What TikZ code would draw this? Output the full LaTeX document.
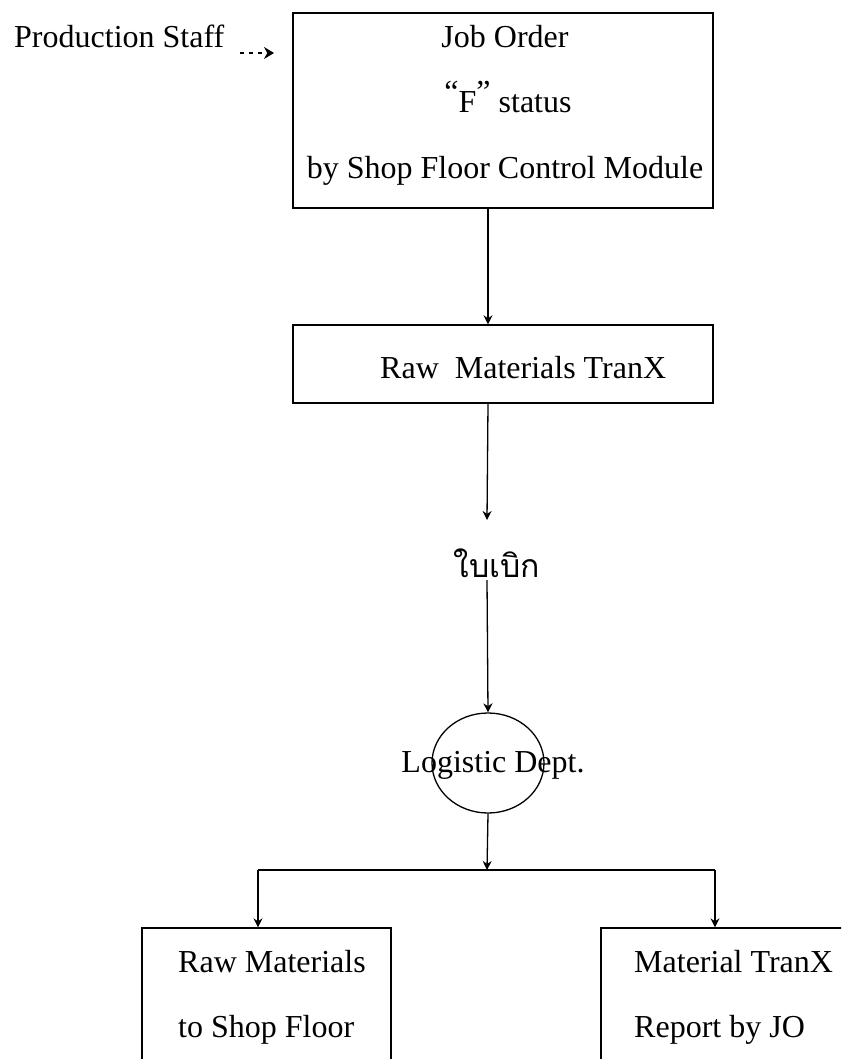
\documentclass[tikz,border=0pt]{standalone}
\usepackage{fontspec}
\setmainfont{Liberation Serif}
\newfontfamily\thaifont[Script=Thai]{Loma}
\usetikzlibrary{arrows.meta,shapes.geometric}
\tikzset{
  box/.style={draw, line width=1.3pt, rectangle, inner sep=0pt},
  lbl/.style={inner sep=0pt, font=\fontsize{32}{38}\selectfont},
  conn/.style={line width=1.3pt},
  arr/.style={conn, -{Stealth[length=9pt,width=9pt]}},
  dasharr/.style={line width=1.3pt, dash pattern=on 4pt off 5pt, -{Stealth[length=10pt,width=12pt]}}
}
\begin{document}
\begin{tikzpicture}[x=1pt,y=-1pt]
\useasboundingbox (0,0) rectangle (841,1059);
\clip (0,0) rectangle (841,1059);
% boxes
\node[box, minimum width=420pt, minimum height=195pt] (top) at (503,110.5) {};
\node[box, minimum width=420pt, minimum height=78pt] (raw) at (503,364) {};
\node[draw, ellipse, line width=1.3pt, minimum width=112pt, minimum height=100pt, inner sep=0pt] (circ) at (488,763) {};
\node[box, minimum width=249pt, minimum height=200pt] (lbox) at (266.5,1028) {};
\node[box, minimum width=300pt, minimum height=200pt] (rbox) at (751,1028) {};
% texts
\node[lbl, anchor=base west] (ps) at (14,48) {Production Staff};
\node[lbl, anchor=base] (jo) at (505,48) {Job Order};
\node[lbl, anchor=base] (fs) at (508,113) {\raisebox{10pt}{“}F\raisebox{10pt}{”}\ status};
\node[lbl, anchor=base] (sfc) at (505,179) {by Shop Floor Control Module};
\node[lbl, anchor=base west] (rmt) at (380,378) {Raw\ \ Materials TranX};
\node[inner sep=0pt, anchor=base, font=\fontsize{32}{38}\thaifont] (thai) at (497,577) {ใบเบิก};
\node[lbl, anchor=base] (log) at (493,772) {Logistic Dept.};
\node[lbl, anchor=base west] (l1) at (178,972) {Raw Materials};
\node[lbl, anchor=base west] (l2) at (178,1037) {to Shop Floor};
\node[lbl, anchor=base west] (r1) at (634,972) {Material TranX};
\node[lbl, anchor=base west] (r2) at (634,1037) {Report by JO};
% connectors
\coordinate (dsA) at (240,53);
\coordinate (dsB) at (274,53);
\draw[dasharr] (dsA) -- (dsB);
\draw[arr] (top.south -| circ.north) -- (raw.north -| circ.north);
\coordinate (thaiTop) at (487,520);
\coordinate (thaiBot) at (487,580);
\draw[arr] (raw.south -| circ.north) -- (thaiTop);
\draw[arr] (thaiBot) -- (circ.north);
\coordinate (br) at (487,870);
\coordinate (brL) at (258,870);
\coordinate (brR) at (715,870);
\draw[arr] (circ.south) -- (br);
\draw[conn] (brL) -- (brR);
\draw[arr] (brL) -- (brL |- lbox.north);
\draw[arr] (brR) -- (brR |- rbox.north);
\end{tikzpicture}
\end{document}
